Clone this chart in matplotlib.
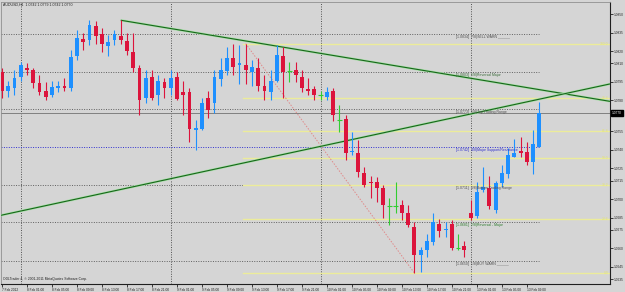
import matplotlib
matplotlib.use("Agg")
import matplotlib.pyplot as plt
import numpy as np

plt.rcParams['font.family'] = ['Liberation Sans', 'DejaVu Sans']

# AUDUSD H1 bars, 7 Feb 2012 21:00 .. 13 Feb 2012 11:00
opens = [1.0803, 1.0788, 1.0790, 1.0799, 1.0806, 1.0805, 1.0794, 1.0788, 1.0784, 1.0790,
         1.0792, 1.0790, 1.0816, 1.0830, 1.0829, 1.0840, 1.0834, 1.0824, 1.0829, 1.0832,
         1.0828, 1.0819, 1.0806, 1.0782, 1.0799, 1.0784, 1.0795, 1.0790, 1.0799, 1.0787,
         1.0787, 1.0756, 1.0757, 1.0782, 1.0778, 1.0797, 1.0804, 1.0814, 1.0809, 1.0809,
         1.0803, 1.0806, 1.0792, 1.0787, 1.0796, 1.0816, 1.0804, 1.0805, 1.0799, 1.0789,
         1.0789, 1.0784, 1.0783, 1.0788, 1.0764, 1.0765, 1.0738, 1.0737, 1.0721, 1.0714,
         1.0714, 1.0709, 1.0694, 1.0694, 1.0695, 1.0689, 1.0677, 1.0655, 1.0659, 1.0665,
         1.0680, 1.0675, 1.0680, 1.0660, 1.0662, 1.0689, 1.0686, 1.0707, 1.0709, 1.0691,
         1.0713, 1.0720, 1.0734, 1.0739, 1.0738, 1.0730, 1.0742]
highs = [1.0806, 1.0796, 1.0805, 1.0811, 1.0810, 1.0806, 1.0801, 1.0795, 1.0796, 1.0796,
         1.0798, 1.0821, 1.0837, 1.0835, 1.0845, 1.0844, 1.0839, 1.0833, 1.0837, 1.0845,
         1.0835, 1.0835, 1.0809, 1.0805, 1.0805, 1.0801, 1.0798, 1.0805, 1.0803, 1.0796,
         1.0790, 1.0764, 1.0782, 1.0788, 1.0805, 1.0814, 1.0823, 1.0826, 1.0825, 1.0826,
         1.0813, 1.0814, 1.0801, 1.0805, 1.0825, 1.0823, 1.0811, 1.0811, 1.0805, 1.0798,
         1.0792, 1.0788, 1.0791, 1.0790, 1.0776, 1.0768, 1.0754, 1.0748, 1.0726, 1.0719,
         1.0718, 1.0711, 1.0701, 1.0714, 1.0699, 1.0695, 1.0681, 1.0661, 1.0672, 1.0689,
         1.0684, 1.0681, 1.0683, 1.0672, 1.0666, 1.0699, 1.0714, 1.0726, 1.0719, 1.0715,
         1.0728, 1.0741, 1.0749, 1.0750, 1.0746, 1.0756, 1.0779]
lows = [1.0782, 1.0783, 1.0784, 1.0796, 1.0801, 1.0790, 1.0784, 1.0780, 1.0783, 1.0787,
        1.0788, 1.0788, 1.0813, 1.0821, 1.0825, 1.0826, 1.0819, 1.0816, 1.0825, 1.0826,
        1.0817, 1.0803, 1.0768, 1.0778, 1.0780, 1.0776, 1.0782, 1.0784, 1.0780, 1.0768,
        1.0746, 1.0740, 1.0756, 1.0766, 1.0770, 1.0792, 1.0801, 1.0801, 1.0793, 1.0793,
        1.0792, 1.0788, 1.0780, 1.0780, 1.0795, 1.0782, 1.0795, 1.0795, 1.0787, 1.0784,
        1.0780, 1.0780, 1.0780, 1.0763, 1.0754, 1.0732, 1.0736, 1.0718, 1.0710, 1.0701,
        1.0698, 1.0685, 1.0679, 1.0689, 1.0683, 1.0677, 1.0640, 1.0641, 1.0653, 1.0663,
        1.0669, 1.0669, 1.0659, 1.0659, 1.0653, 1.0683, 1.0685, 1.0706, 1.0692, 1.0689,
        1.0710, 1.0717, 1.0734, 1.0734, 1.0728, 1.0720, 1.0742]
closes = [1.0788, 1.0792, 1.0798, 1.0809, 1.0805, 1.0794, 1.0787, 1.0783, 1.0791, 1.0792,
          1.0790, 1.0815, 1.0831, 1.0827, 1.0841, 1.0832, 1.0826, 1.0827, 1.0834, 1.0829,
          1.0820, 1.0806, 1.0780, 1.0798, 1.0782, 1.0796, 1.0790, 1.0798, 1.0781, 1.0784,
          1.0757, 1.0758, 1.0778, 1.0772, 1.0799, 1.0805, 1.0814, 1.0807, 1.0810, 1.0805,
          1.0807, 1.0792, 1.0788, 1.0796, 1.0817, 1.0803, 1.0804, 1.0801, 1.0790, 1.0788,
          1.0784, 1.0784, 1.0787, 1.0768, 1.0764, 1.0737, 1.0739, 1.0722, 1.0711, 1.0713,
          1.0709, 1.0695, 1.0694, 1.0694, 1.0689, 1.0679, 1.0655, 1.0659, 1.0666, 1.0681,
          1.0674, 1.0676, 1.0660, 1.0660, 1.0659, 1.0685, 1.0706, 1.0710, 1.0694, 1.0713,
          1.0721, 1.0736, 1.0737, 1.0737, 1.0730, 1.0745, 1.0770]

time_labels = ["7 Feb 2012", "8 Feb 01:00", "8 Feb 05:00", "8 Feb 09:00", "8 Feb 13:00",
               "8 Feb 17:00", "8 Feb 21:00", "9 Feb 01:00", "9 Feb 05:00", "9 Feb 09:00",
               "9 Feb 13:00", "9 Feb 17:00", "9 Feb 21:00", "10 Feb 01:00", "10 Feb 05:00",
               "10 Feb 09:00", "10 Feb 13:00", "10 Feb 17:00", "10 Feb 21:00",
               "13 Feb 01:00", "13 Feb 05:00", "13 Feb 09:00"]
day_starts = [3, 27, 51, 75]   # bar index of each new day (period separators)
price_ticks = [1.0850, 1.0835, 1.0820, 1.0810, 1.0795, 1.0780, 1.0755, 1.0740, 1.0725,
               1.0715, 1.0700, 1.0685, 1.0675, 1.0660, 1.0645, 1.0635]
bid = 1.0770

murrey_levels = [1.0834, 1.0803, 1.0773, 1.0742, 1.0711, 1.0681, 1.0650]
murrey_names = ["7/8)SELL WARN ______", "6/8)Reversal Major", "5/8)Top Trading Range",
                "4/8)Major Support/Resistance", "3/8)Bottom Trading Range",
                "2/8)Reversal - Major", "1/8)BUY WARN ______"]
murrey_colors = ["#505050", "#3c6e3c", "#505050", "#3030d0", "#505050", "#2e7d2e", "#505050"]

fib_bars = [39, 66]
fib_prices = [1.0826, 1.0640]
fib_ratios = [0.0, 0.236, 0.382, 0.5, 0.618, 0.764, 1.0]

trend_down = ([19, 44], [1.0845, 1.0824])
trend_up = ([0, 86], [1.0687, 1.0781])

BG = "#d5d5d5"
BLUE = "#1e90ff"
RED = "#dc143c"
DOJI = "#32cd32"

fig = plt.figure(figsize=(6.25, 2.92), dpi=100, facecolor=BG)
ax = fig.add_axes([1 / 625, 8 / 292, 609 / 625, 282 / 292], facecolor=BG)
ax.set_xlim(-0.16, 97.3)
ax.set_ylim(1.06311, 1.08598)
xmin, xmax = ax.get_xlim()

# period separators
for d in day_starts:
    ax.axvline(d, color="#505050", lw=0.7, ls=(0, (1, 1.5)), zorder=1)

# murrey math lines
last = len(opens) - 1
for lev, name, col in zip(murrey_levels, murrey_names, murrey_colors):
    lc = "#3030d0" if "4/8" in name else "#606060"
    ax.plot([xmin, last], [lev, lev], color=lc, lw=0.7, ls=(0, (1, 1.5)), zorder=1)
    ax.text(72.6, lev - 0.00024, "[%.4f]  %s" % (lev, name), fontsize=2.5,
            color=col, va="center", ha="left", zorder=6)

# fibonacci retracement
hi, lo = fib_prices
for r in fib_ratios:
    lev = lo + (hi - lo) * r
    ax.plot([fib_bars[0] - 0.4, xmax], [lev, lev], color="#ecec9a", lw=1.0, zorder=1)
    ax.text(xmax - 0.3, lev, "%.1f" % (r * 100), fontsize=2.4, color="#e2e27a",
            ha="right", va="center", zorder=6)
ax.plot(fib_bars, fib_prices, color="#e08a8a", lw=0.7, ls=(0, (1.5, 1.5)), zorder=2)

# bid line
ax.axhline(bid, color="#808080", lw=0.7, zorder=1)

# trend lines (rays)
def ray(pts, x0, x1):
    xs, ys = pts
    k = (ys[1] - ys[0]) / (xs[1] - xs[0])
    return [x0, x1], [ys[0] + k * (x0 - xs[0]), ys[0] + k * (x1 - xs[0])]

for pts, x0 in [(trend_down, trend_down[0][0]), (trend_up, xmin)]:
    xs, ys = ray(pts, x0, xmax)
    ax.plot(xs, ys, color="#a8e0a8", lw=1.7, solid_capstyle="butt", zorder=3)
    ax.plot(xs, ys, color="#17661a", lw=0.8, solid_capstyle="butt", zorder=3)

# candles
o = np.array(opens)
h = np.array(highs)
l = np.array(lows)
c = np.array(closes)
idx = np.arange(len(o))
cols = np.where(c > o, BLUE, np.where(c < o, RED, DOJI))
ax.vlines(idx, l, h, colors=cols, lw=0.8, zorder=4)
body_lo = np.minimum(o, c)
body_h = np.maximum(np.abs(c - o), 0.00009)
solid = c != o
ax.bar(idx[solid], body_h[solid], bottom=body_lo[solid], width=0.62,
       color=cols[solid], linewidth=0, zorder=5)
ax.hlines(o[~solid], idx[~solid] - 0.35, idx[~solid] + 0.35, colors=DOJI, lw=0.8, zorder=5)

# axes styling
ax.yaxis.tick_right()
ax.set_yticks(price_ticks)
ax.set_yticklabels(["%.4f" % p for p in price_ticks])
ax.set_xticks(np.arange(0, 4 * len(time_labels), 4))
ax.set_xticklabels(time_labels, ha="left")
ax.tick_params(axis="both", direction="out", length=2, width=0.6, color="#202020",
               labelsize=2.3, labelcolor="#202020", pad=1)
for side in ["right", "bottom"]:
    ax.spines[side].set_color("#202020")
    ax.spines[side].set_linewidth(0.8)
for side in ["top", "left"]:
    ax.spines[side].set_color("#909090")
    ax.spines[side].set_linewidth(0.6)

ax.text(1.0035, bid, "%.4f" % bid, transform=ax.get_yaxis_transform(), fontsize=2.3,
        color="white", va="center", ha="left",
        bbox=dict(boxstyle="square,pad=0.3", fc="black", ec="black"), zorder=7)

fig.text(3 / 625, 1 - 5 / 292, "AUDUSD,H1  1.0742 1.0779 1.0742 1.0770", fontsize=2.6,
         color="#202020", va="center", ha="left")
fig.text(3 / 625, 1 - 279 / 292, "ODLTrader 4, \u00a9 2001-2011 MetaQuotes Software Corp.",
         fontsize=2.4, color="#202020", va="center", ha="left")

fig.savefig("out.png", dpi=100, facecolor=BG)
